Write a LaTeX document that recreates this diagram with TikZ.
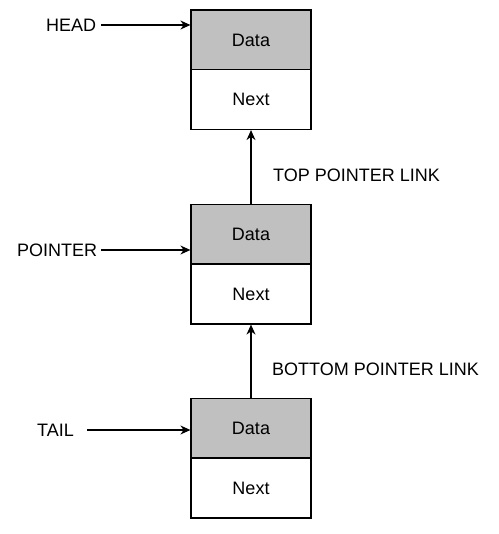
\documentclass[tikz,border=0pt]{standalone}
\usepackage{fontspec}
\setmainfont{Liberation Sans}
\usetikzlibrary{arrows.meta}
\definecolor{datagray}{HTML}{C0C0C0}
\begin{document}
\begin{tikzpicture}[x=1pt,y=-1pt,
  every node/.style={font=\fontsize{18}{21}\selectfont},
  cell/.style={draw=black, line width=1.2pt, minimum width=120pt, minimum height=60pt, inner sep=0pt, anchor=center},
  datacell/.style={cell, fill=datagray},
  nextcell/.style={cell, fill=white},
  lbl/.style={inner sep=0pt, anchor=west},
  ptr/.style={line width=1.2pt, -{Stealth[length=10pt,width=9pt]}}]
\useasboundingbox (0,0) rectangle (498,534);
% top
\node[datacell] (d1) at (251,40) {Data};
\node[nextcell] (n1) at (251,99.5) {Next};
% middle
\node[datacell] (d2) at (251,234.5) {Data};
\node[nextcell] (n2) at (251,294) {Next};
% bottom
\node[datacell] (d3) at (251,428.5) {Data};
\node[nextcell] (n3) at (251,488) {Next};
% labels
\node[lbl] (head) at (46,25) {HEAD};
\node[lbl] (pointer) at (17,250) {POINTER};
\node[lbl] (tail) at (37,430) {TAIL};
\node[lbl] (toplink) at (273,175) {TOP POINTER LINK};
\node[lbl] (botlink) at (272,369) {BOTTOM POINTER LINK};
\coordinate (hs) at (101,25);
\coordinate (ps) at (101,250);
\coordinate (ts) at (87,430);
\draw[ptr] (hs) -- (hs -| d1.west);
\draw[ptr] (ps) -- (ps -| d2.west);
\draw[ptr] (ts) -- (ts -| d3.west);
\draw[ptr] (d2.north) -- (n1.south);
\draw[ptr] (d3.north) -- (n2.south);
\end{tikzpicture}
\end{document}
